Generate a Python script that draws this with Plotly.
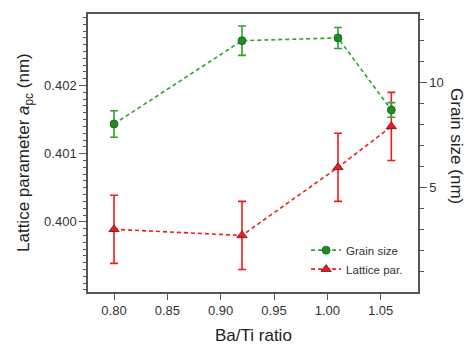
import plotly.graph_objects as go

ba_ti = [0.80, 0.92, 1.01, 1.06]
grain_size = [8.03, 12.0, 12.13, 8.7]
grain_err = [0.63, 0.7, 0.5, 0.35]
lattice = [0.39989, 0.39980, 0.40080, 0.40140]
lattice_err = [0.0005, 0.0005, 0.0005, 0.0005]

green_line = "#2aa52a"
green_fill = "#1e8c1e"
red = "#f01c1c"
axis_col = "#555555"
txt = "#333333"
title_col = "#222222"

fig = go.Figure()
fig.add_trace(go.Scatter(
    x=ba_ti, y=grain_size, name="Grain size", yaxis="y2",
    mode="lines+markers",
    line=dict(color=green_line, width=1.6, dash="4px,3px"),
    marker=dict(symbol="circle", size=8, color=green_fill, line=dict(color="#1b5e1b", width=0.8)),
    error_y=dict(type="data", array=grain_err, color=green_line, thickness=1.6, width=4),
))
fig.add_trace(go.Scatter(
    x=ba_ti, y=lattice, name="Lattice par.", yaxis="y",
    mode="lines+markers",
    line=dict(color=red, width=1.6, dash="4px,3px"),
    marker=dict(symbol="triangle-up", size=9, color=red, line=dict(color="#6b1010", width=0.8)),
    error_y=dict(type="data", array=lattice_err, color=red, thickness=1.6, width=4),
))

font = dict(family="Arial, Liberation Sans, sans-serif", size=13, color=txt)

fig.update_layout(
    width=467, height=345,
    margin=dict(l=88, r=49, t=14, b=53, autoexpand=False),
    paper_bgcolor="white", plot_bgcolor="white",
    font=font,
    showlegend=True,
    legend=dict(x=0.97, y=0.03, xanchor="right", yanchor="bottom",
                bgcolor="rgba(0,0,0,0)", font=dict(size=11.5, color=txt),
                itemwidth=30, tracegroupgap=0),
    xaxis=dict(
        automargin=False,
        range=[0.7756, 1.085], tickvals=[0.80, 0.85, 0.90, 0.95, 1.00, 1.05],
        ticktext=["0.80", "0.85", "0.90", "0.95", "1.00", "1.05"],
        ticks="outside", ticklen=6, tickcolor=axis_col, tickwidth=1,
        showline=True, linecolor=axis_col, linewidth=1.5, mirror=True,
        showgrid=False, zeroline=False,
        tickfont=dict(size=13, color=txt),
    ),
    yaxis=dict(
        automargin=False,
        range=[0.39897, 0.40305], tickvals=[0.400, 0.401, 0.402],
        ticktext=["0.400", "0.401", "0.402"],
        ticks="outside", ticklen=7, tickcolor=axis_col, tickwidth=1,
        minor=dict(dtick=0.0001, tick0=0.400, ticks="outside", ticklen=3.5, tickcolor=axis_col, showgrid=False),
        showline=True, linecolor=axis_col, linewidth=1.5, mirror=False,
        showgrid=False, zeroline=False,
        tickfont=dict(size=13, color=txt),
    ),
    yaxis2=dict(
        automargin=False,
        overlaying="y", side="right",
        range=[0.03, 13.27], tickvals=[5, 10], ticktext=["5", "10"],
        ticks="outside", ticklen=7, tickcolor=axis_col, tickwidth=1,
        minor=dict(dtick=1, tick0=0, ticks="outside", ticklen=4, tickcolor=axis_col, showgrid=False),
        showline=True, linecolor=axis_col, linewidth=1.5,
        showgrid=False, zeroline=False,
        tickfont=dict(size=13, color=txt),
    ),
    annotations=[
        dict(text="Grain size (nm)", xref="paper", yref="paper",
             x=1.0, y=0.525, xshift=39, showarrow=False, textangle=90,
             font=dict(size=17, color=title_col), xanchor="center", yanchor="middle"),
        dict(text="Lattice parameter <i>a</i><sub>pc</sub> (nm)", xref="paper", yref="paper",
             x=0.0, y=0.5, xshift=-63, showarrow=False, textangle=-90,
             font=dict(size=17, color=title_col), xanchor="center", yanchor="middle"),
        dict(text="Ba/Ti ratio", xref="paper", yref="paper",
             x=0.5, y=0.0, yshift=-43, showarrow=False,
             font=dict(size=17, color=title_col), xanchor="center", yanchor="middle"),
    ],
)

fig.write_html("out.html", config={"displayModeBar": False},
               post_script="document.body.style.margin='0';document.body.style.padding='0';")
